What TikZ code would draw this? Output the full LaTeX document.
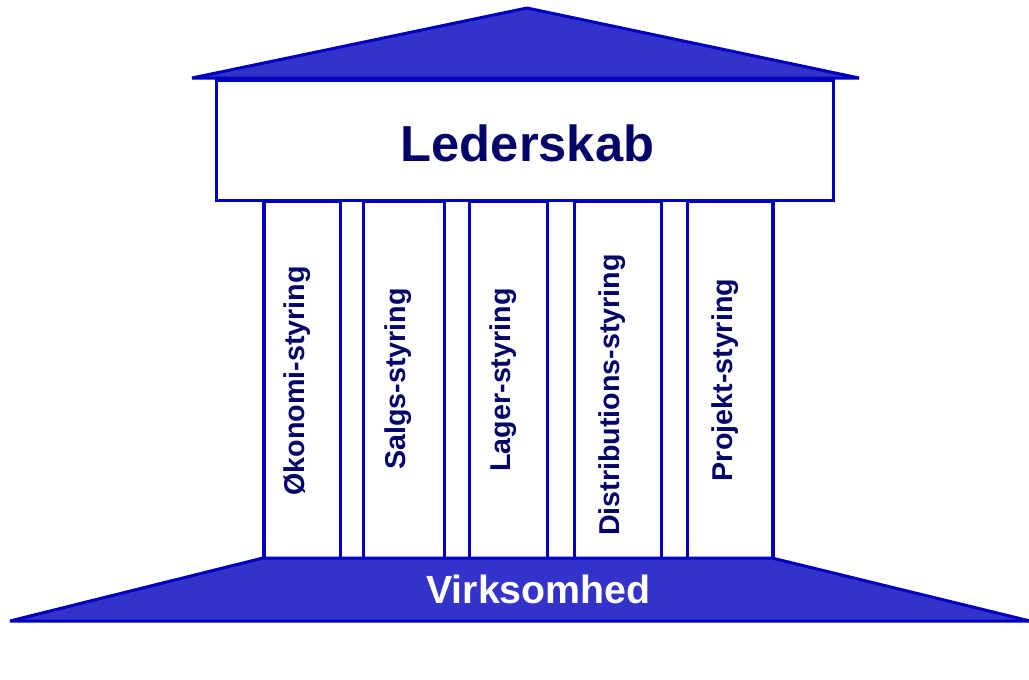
\documentclass[tikz,border=0pt]{standalone}
\usepackage{fontspec}
\setmainfont{Liberation Sans}
\definecolor{fillblue}{RGB}{51,51,204}
\definecolor{lineblue}{RGB}{0,0,190}
\definecolor{navy}{RGB}{5,5,105}
\begin{document}
\begin{tikzpicture}[x=0.75pt,y=-0.75pt,
  solid shape/.style={fill=fillblue,draw=lineblue,line width=2.25pt,line join=bevel},
  outline/.style={draw=lineblue,line width=2.25pt,fill=white,inner sep=0pt},
  pillarbox/.style={outline,minimum height=358*0.75pt,anchor=north west},
  pillartext/.style={rotate=90,text=navy,font=\bfseries\fontsize{21.5pt}{24pt}\selectfont,inner sep=0pt},
  titletext/.style={text=navy,font=\bfseries\fontsize{38pt}{42pt}\selectfont,inner sep=0pt},
  basetext/.style={text=white,font=\bfseries\fontsize{29.5pt}{32pt}\selectfont,inner sep=0pt}]
\useasboundingbox (0,0) rectangle (1029,679);
\fill[white] (0,0) rectangle (1029,679);
% pillars
\node[pillarbox,minimum width=76*0.75pt] (p1) at (263,200) {};
\node[pillarbox,minimum width=81*0.75pt] (p2) at (362,200) {};
\node[pillarbox,minimum width=78*0.75pt] (p3) at (468,200) {};
\node[pillarbox,minimum width=87*0.75pt] (p4) at (573,200) {};
\node[pillarbox,minimum width=86*0.75pt] (p5) at (686,200) {};
\draw[draw=lineblue,line width=2.25pt] (263,200) -- (263,558) (772,200) -- (772,558);
% roof
\filldraw[solid shape] (192,78) -- (527,8) -- (859,78) -- cycle;
% Lederskab box
\node[outline,minimum width=617*0.75pt,minimum height=120*0.75pt] (led) at (524.5,140) {};
\node[titletext] (ledt) at (527.5,143) {Lederskab};
% base
\filldraw[solid shape] (263,558) -- (772,558) -- (1030,621) -- (10,621) -- cycle;
\node[basetext] (virk) at (538.5,589) {Virksomhed};
% pillar texts
\node[pillartext] (t1) at (297,381) {Økonomi-styring};
\node[pillartext] (t2) at (398,379) {Salgs-styring};
\node[pillartext] (t3) at (503,380) {Lager-styring};
\node[pillartext] (t4) at (612,395) {Distributions-styring};
\node[pillartext] (t5) at (725,380) {Projekt-styring};
\end{tikzpicture}
\end{document}
